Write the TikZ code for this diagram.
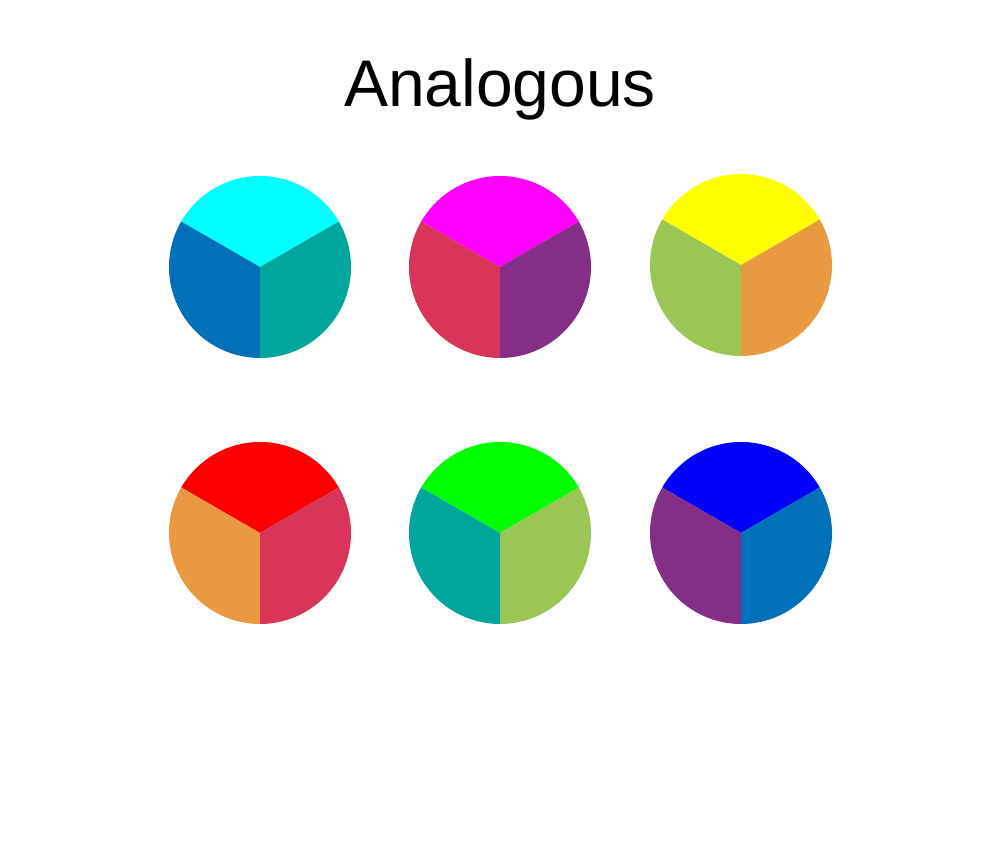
\documentclass[tikz,border=0pt]{standalone}
\usepackage{fontspec}
\setmainfont{Liberation Sans}
\definecolor{cCyan}{HTML}{00FFFF}
\definecolor{cBlue}{HTML}{0070B8}
\definecolor{cTeal}{HTML}{00A69C}
\definecolor{cMag}{HTML}{FF00FF}
\definecolor{cCrim}{HTML}{D9345A}
\definecolor{cPurp}{HTML}{842E87}
\definecolor{cYel}{HTML}{FFFF00}
\definecolor{cGreen}{HTML}{9BC555}
\definecolor{cOrange}{HTML}{E9993F}
\definecolor{cRed}{HTML}{FF0000}
\definecolor{cLime}{HTML}{00FF00}
\definecolor{cPure}{HTML}{0000FF}
\newcommand{\wheel}[5]{%
  \fill[#3] (#1,#2) -- ++(30:91) arc (30:150:91) -- cycle;
  \fill[#4] (#1,#2) -- ++(150:91) arc (150:270:91) -- cycle;
  \fill[#5] (#1,#2) -- ++(270:91) arc (270:390:91) -- cycle;
}
\begin{document}
\begin{tikzpicture}[x=1pt,y=1pt]
\useasboundingbox[fill=white] (0,0) rectangle (1000,859);
\node[anchor=base,font=\fontsize{66}{70}\selectfont,inner sep=0pt] (title) at (500,752) {Analogous};
\wheel{260}{592}{cCyan}{cBlue}{cTeal}
\wheel{500}{592}{cMag}{cCrim}{cPurp}
\wheel{741}{594}{cYel}{cGreen}{cOrange}
\wheel{260}{326}{cRed}{cOrange}{cCrim}
\wheel{500}{326}{cLime}{cTeal}{cGreen}
\wheel{741}{326}{cPure}{cPurp}{cBlue}
\end{tikzpicture}
\end{document}
